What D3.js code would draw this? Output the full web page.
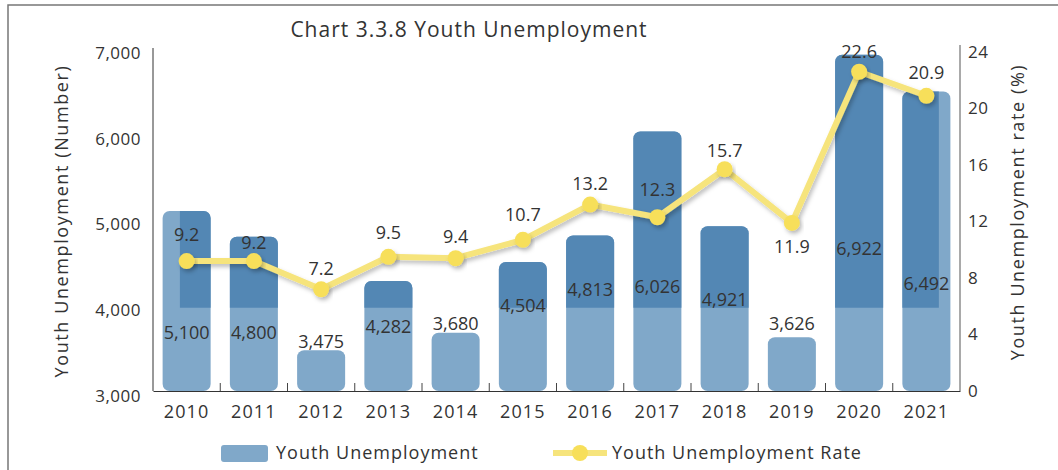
<!DOCTYPE html>
<html>
<head>
<meta charset="utf-8">
<script src="https://cdn.jsdelivr.net/npm/d3@7"></script>
<style>
  body { margin: 0; background: #fff; }
  svg text { font-family: "Open Sans", "Noto Sans", sans-serif; fill: #333; }
</style>
</head>
<body>
<script>
// data
var years = ["2010","2011","2012","2013","2014","2015","2016","2017","2018","2019","2020","2021"],
    youthUnemp = [5100, 4800, 3475, 4282, 3680, 4504, 4813, 6026, 4921, 3626, 6922, 6492],
    youthRate = [9.2, 9.2, 7.2, 9.5, 9.4, 10.7, 13.2, 12.3, 15.7, 11.9, 22.6, 20.9],
    leftTicks = [3000, 4000, 5000, 6000, 7000],
    rightTicks = [0, 4, 8, 12, 16, 20, 24];

// where the value labels sit, in each axis' own units
var barLabelAt = [3675, 3675, 3570, 3745, 3780, 3990, 4176, 4211, 4059, 3780, 4665, 4257],
    rateLabelAt = [11.1, 10.5, 8.65, 11.2, 10.9, 12.5, 14.7, 14.25, 17.0, 10.2, 24.0, 22.5];

var W = 1058, H = 470,
    margin = {left:153, top:48, right:98, bottom:79},
    innerW = W - margin.left - margin.right,
    innerH = H - margin.top - margin.bottom,
    lightBlue = "#80a8c9", darkBlue = "#5387b4",
    lineYellow = "#f6e47c", dotYellow = "#f7df5a";

var svg = d3.select("body").append("svg").attr("width", W).attr("height", H);

// frame
svg.append("rect").attr("x",8).attr("y",5).attr("width",1100).attr("height",500)
   .attr("fill","none").attr("stroke","#777").attr("stroke-width",1.5);

var defs = svg.append("defs");
var f = defs.append("filter").attr("id","shadow").attr("x","-20%").attr("y","-20%")
            .attr("width","140%").attr("height","160%");
f.append("feDropShadow").attr("dx",2).attr("dy",3).attr("stdDeviation",2)
 .attr("flood-color","#000").attr("flood-opacity",0.25);

var g = svg.append("g").attr("transform","translate("+margin.left+","+margin.top+")");

var x = d3.scaleBand().domain(years).range([0, innerW]).paddingInner(0.286).paddingOuter(0.143),
    y = d3.scaleLinear().domain([3000, 7000]).range([innerH, 0]),
    yR = d3.scaleLinear().domain([0, 24]).range([innerH, 4]);

// clip for the darker upper shading
defs.append("clipPath").attr("id","darkclip").append("rect")
    .attr("x", x(years[0]) + x.bandwidth()*0.36)
    .attr("y", -10)
    .attr("width", x(years[years.length-1]) + x.bandwidth()*0.76 - x(years[0]) - x.bandwidth()*0.36)
    .attr("height", y(3970) + 10);

// bars
g.selectAll("rect.bar").data(youthUnemp).enter().append("rect").attr("class","bar")
  .attr("x", function(d,i){ return x(years[i]); })
  .attr("y", function(d){ return y(d); })
  .attr("width", x.bandwidth())
  .attr("height", function(d){ return innerH - y(d); })
  .attr("rx", 7).attr("fill", lightBlue);

g.append("g").attr("clip-path","url(#darkclip)")
  .selectAll("rect").data(youthUnemp).enter().append("rect")
  .attr("x", function(d,i){ return x(years[i]); })
  .attr("y", function(d){ return y(d); })
  .attr("width", x.bandwidth())
  .attr("height", function(d){ return innerH - y(d); })
  .attr("rx", 7).attr("fill", darkBlue);

// axes
g.append("line").attr("x1",0).attr("x2",0).attr("y1",0).attr("y2",innerH).attr("stroke","#333");
g.append("line").attr("x1",innerW).attr("x2",innerW).attr("y1",-3).attr("y2",innerH).attr("stroke","#555");
var xAxis = g.append("g").attr("transform","translate(0,"+innerH+")")
  .call(d3.axisBottom(x).tickSize(0).tickPadding(14));
xAxis.select(".domain").attr("stroke","#333");
xAxis.selectAll("text").attr("font-size",18).attr("letter-spacing",1.2).attr("fill","#333");
g.selectAll("line.sep").data(years.slice(1)).enter().append("line").attr("class","sep")
  .attr("x1", function(d){ return x(d) - x.step()*x.paddingInner()/2; })
  .attr("x2", function(d){ return x(d) - x.step()*x.paddingInner()/2; })
  .attr("y1", innerH).attr("y2", innerH - 8).attr("stroke","#444");

g.selectAll("text.lt").data(leftTicks).enter().append("text").attr("class","lt")
  .attr("x", -12).attr("y", function(d){ return y(d) + 5; })
  .attr("dy","0.35em").attr("text-anchor","end").attr("font-size",17).attr("letter-spacing",0.5)
  .text(d3.format(","));
g.selectAll("text.rt").data(rightTicks).enter().append("text").attr("class","rt")
  .attr("x", innerW + 8).attr("y", function(d){ return yR(d); })
  .attr("dy","0.35em").attr("text-anchor","start").attr("font-size",17).attr("letter-spacing",0.5)
  .text(function(d){ return d; });

// axis titles
svg.append("text").attr("transform","translate(62,221) rotate(-90)")
   .attr("text-anchor","middle").attr("dy","0.35em").attr("font-size",18).attr("letter-spacing",1.6)
   .text("Youth Unemployment (Number)");
svg.append("text").attr("transform","translate(1018,212) rotate(-90)")
   .attr("text-anchor","middle").attr("dy","0.35em").attr("font-size",18).attr("letter-spacing",1.6)
   .text("Youth Unemployment rate (%)");
svg.append("text").attr("x",469).attr("y",30).attr("dy","0.35em")
   .attr("text-anchor","middle").attr("font-size",21).attr("letter-spacing",1)
   .text("Chart 3.3.8 Youth Unemployment");

// bar labels
g.selectAll("text.bl").data(youthUnemp).enter().append("text").attr("class","bl")
  .attr("x", function(d,i){ return x(years[i]) + x.bandwidth()/2; })
  .attr("y", function(d,i){ return y(barLabelAt[i]); })
  .attr("dy","0.35em").attr("text-anchor","middle").attr("font-size",18)
  .text(d3.format(","));

// rate line
var line = d3.line()
  .x(function(d,i){ return x(years[i]) + x.bandwidth()/2; })
  .y(function(d){ return yR(d); });
g.append("path").datum(youthRate).attr("d", line)
  .attr("fill","none").attr("stroke",lineYellow).attr("stroke-width",6)
  .attr("stroke-linejoin","round").attr("filter","url(#shadow)");
g.selectAll("circle.pt").data(youthRate).enter().append("circle").attr("class","pt")
  .attr("cx", function(d,i){ return x(years[i]) + x.bandwidth()/2; })
  .attr("cy", function(d){ return yR(d); })
  .attr("r", 8).attr("fill", dotYellow).attr("filter","url(#shadow)");
g.selectAll("text.rl").data(youthRate).enter().append("text").attr("class","rl")
  .attr("x", function(d,i){ return x(years[i]) + x.bandwidth()/2; })
  .attr("y", function(d,i){ return yR(rateLabelAt[i]); })
  .attr("dy","0.35em").attr("text-anchor","middle").attr("font-size",18)
  .text(function(d){ return d.toFixed(1); });

// legend
var lg = svg.append("g");
lg.append("rect").attr("x",221).attr("y",445).attr("width",47).attr("height",17)
  .attr("rx",3).attr("fill",lightBlue);
lg.append("text").attr("x",276).attr("y",453).attr("dy","0.35em").attr("font-size",18).attr("letter-spacing",1)
  .text("Youth Unemployment");
lg.append("line").attr("x1",553).attr("x2",607).attr("y1",453).attr("y2",453)
  .attr("stroke",lineYellow).attr("stroke-width",6);
lg.append("circle").attr("cx",580).attr("cy",453).attr("r",8).attr("fill",dotYellow);
lg.append("text").attr("x",612).attr("y",453).attr("dy","0.35em").attr("font-size",18).attr("letter-spacing",1)
  .text("Youth Unemployment Rate");
</script>
</body>
</html>
